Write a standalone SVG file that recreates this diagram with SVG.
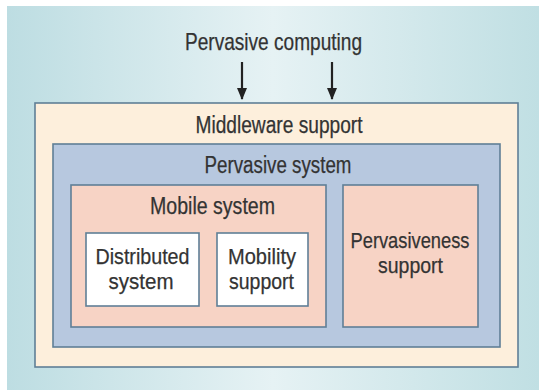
<svg xmlns="http://www.w3.org/2000/svg" width="539" height="390" viewBox="0 0 539 390">
  <defs>
    <linearGradient id="panelGrad" x1="0" y1="0" x2="1" y2="0">
      <stop offset="0" stop-color="#bddde2"/>
      <stop offset="0.5" stop-color="#e6f2f4"/>
      <stop offset="1" stop-color="#c0dfe3"/>
    </linearGradient>
    <marker id="arrowHead" viewBox="0 0 12 10" refX="11" refY="5" markerWidth="12" markerHeight="10" orient="auto" markerUnits="userSpaceOnUse">
      <path d="M0,0 L12,5 L0,10 Z" fill="#222"/>
    </marker>
  </defs>
  <style>
    .box { stroke: #5f7f96; stroke-width: 1.6; }
    .lbl { font-family: "Liberation Sans", Arial, sans-serif; fill: #333333; text-anchor: middle; stroke: #333333; stroke-width: 0.25; }
    .conn { stroke: #222; stroke-width: 2.2; fill: none; }
  </style>

  <rect x="0" y="0" width="539" height="390" fill="#ffffff"/>
  <rect x="7" y="6" width="532" height="384" fill="url(#panelGrad)"/>

  <text class="lbl" x="273.5" y="50" font-size="24" textLength="177" lengthAdjust="spacingAndGlyphs">Pervasive computing</text>

  <g id="connectors">
    <line class="conn" x1="242" y1="62" x2="242" y2="99" marker-end="url(#arrowHead)"/>
    <line class="conn" x1="332" y1="62" x2="332" y2="99" marker-end="url(#arrowHead)"/>
  </g>

  <g id="middleware">
    <rect class="box" x="35" y="103" width="483" height="264" fill="#fdefdc"/>
    <text class="lbl" x="279" y="133" font-size="23" textLength="167" lengthAdjust="spacingAndGlyphs">Middleware support</text>
  </g>

  <g id="pervasive-system">
    <rect class="box" x="53" y="144" width="447" height="203" fill="#b7c8df"/>
    <text class="lbl" x="278" y="173" font-size="23" textLength="147" lengthAdjust="spacingAndGlyphs">Pervasive system</text>
  </g>

  <g id="mobile-system">
    <rect class="box" x="71" y="185" width="255" height="142" fill="#f7d3c5"/>
    <text class="lbl" x="212.5" y="214" font-size="23" textLength="125" lengthAdjust="spacingAndGlyphs">Mobile system</text>
  </g>

  <g id="distributed-system">
    <rect class="box" x="86" y="233" width="113" height="73" fill="#ffffff"/>
    <text class="lbl" x="142.5" y="264" font-size="22" textLength="94" lengthAdjust="spacingAndGlyphs">Distributed</text>
    <text class="lbl" x="141" y="289" font-size="22" textLength="65" lengthAdjust="spacingAndGlyphs">system</text>
  </g>

  <g id="mobility-support">
    <rect class="box" x="217" y="233" width="91" height="73" fill="#ffffff"/>
    <text class="lbl" x="262" y="264" font-size="22" textLength="68" lengthAdjust="spacingAndGlyphs">Mobility</text>
    <text class="lbl" x="261.5" y="289" font-size="22" textLength="65" lengthAdjust="spacingAndGlyphs">support</text>
  </g>

  <g id="pervasiveness-support">
    <rect class="box" x="343" y="185" width="135" height="142" fill="#f7d3c5"/>
    <text class="lbl" x="410" y="248" font-size="22" textLength="119" lengthAdjust="spacingAndGlyphs">Pervasiveness</text>
    <text class="lbl" x="410.5" y="273" font-size="22" textLength="65" lengthAdjust="spacingAndGlyphs">support</text>
  </g>
</svg>
